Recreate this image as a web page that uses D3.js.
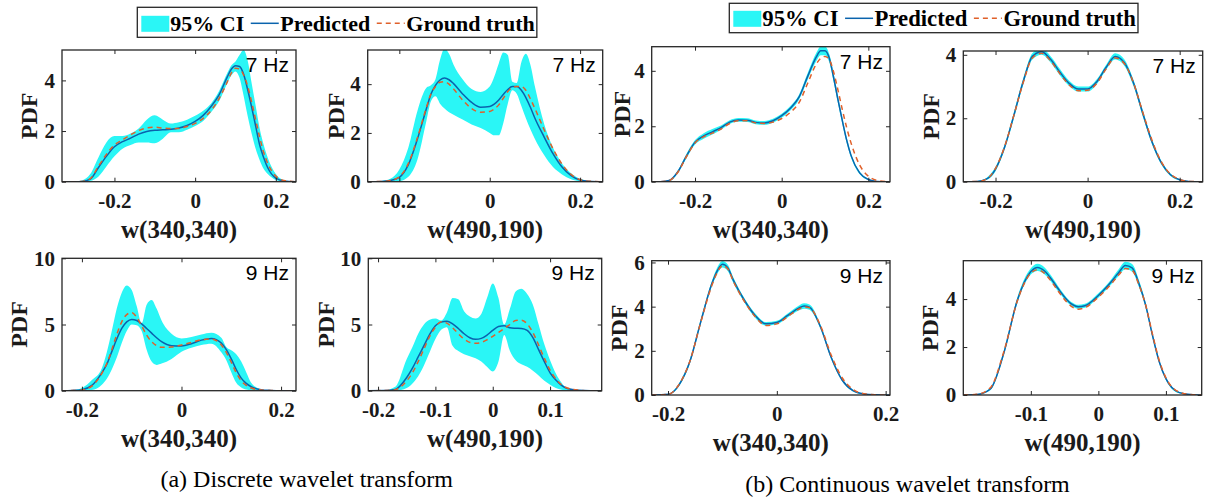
<!DOCTYPE html>
<html>
<head>
<meta charset="utf-8">
<script src="https://d3js.org/d3.v7.min.js"></script>
<style>
  body { margin: 0; background: #fff; }
</style>
</head>
<body>
<script>
// ---- data ----
// (a) DWT, w(340,340), 7 Hz
var dwtA7_x     = [-0.33, -0.30, -0.28, -0.26, -0.24, -0.22, -0.20, -0.18, -0.16, -0.14, -0.12, -0.10, -0.08, -0.06, -0.04, -0.02, 0, 0.02, 0.04, 0.06, 0.08, 0.09, 0.10, 0.11, 0.12, 0.13, 0.14, 0.15, 0.16, 0.17, 0.18, 0.20, 0.22, 0.25];
var dwtA7_pred  = [0, 0, 0.01, 0.1, 0.55, 1.0, 1.38, 1.58, 1.72, 1.88, 1.98, 2.03, 2.05, 2.07, 2.12, 2.22, 2.38, 2.62, 2.98, 3.45, 4.15, 4.45, 4.58, 4.55, 4.25, 3.65, 2.95, 2.2, 1.45, 0.95, 0.55, 0.14, 0.03, 0];
var dwtA7_truth = [0, 0, 0.01, 0.12, 0.6, 1.08, 1.45, 1.65, 1.85, 2.02, 2.12, 2.15, 2.12, 2.1, 2.1, 2.18, 2.3, 2.5, 2.82, 3.3, 3.95, 4.3, 4.48, 4.45, 4.22, 3.78, 3.15, 2.45, 1.75, 1.15, 0.72, 0.22, 0.05, 0];
var dwtA7_hi    = [0, 0, 0.05, 0.3, 0.95, 1.55, 1.8, 1.8, 1.9, 2.1, 2.45, 2.62, 2.45, 2.3, 2.35, 2.45, 2.6, 2.8, 3.1, 3.6, 4.3, 4.6, 4.75, 5.0, 5.2, 4.8, 3.9, 3.0, 2.1, 1.45, 0.95, 0.3, 0.06, 0];
var dwtA7_lo    = [0, 0, 0, 0.03, 0.2, 0.6, 1.0, 1.3, 1.45, 1.55, 1.55, 1.52, 1.7, 1.95, 1.95, 2.05, 2.2, 2.4, 2.75, 3.2, 3.9, 4.2, 4.35, 4.1, 3.4, 2.6, 1.9, 1.3, 0.85, 0.5, 0.3, 0.07, 0.01, 0];

// (a) DWT, w(490,190), 7 Hz
var dwtB7_x     = [-0.27, -0.24, -0.22, -0.20, -0.18, -0.16, -0.14, -0.13, -0.12, -0.11, -0.10, -0.09, -0.08, -0.06, -0.04, -0.02, 0, 0.01, 0.02, 0.03, 0.04, 0.05, 0.06, 0.07, 0.08, 0.09, 0.10, 0.12, 0.14, 0.16, 0.18, 0.20, 0.22, 0.25];
var dwtB7_pred  = [0, 0.01, 0.05, 0.18, 0.7, 1.75, 3.0, 3.6, 3.95, 4.17, 4.25, 4.18, 4.02, 3.6, 3.25, 3.05, 3.08, 3.18, 3.35, 3.58, 3.78, 3.9, 3.9, 3.75, 3.45, 3.05, 2.6, 1.85, 1.15, 0.6, 0.25, 0.07, 0.02, 0];
var dwtB7_truth = [0, 0.01, 0.05, 0.2, 0.75, 1.8, 3.05, 3.6, 3.9, 4.08, 4.1, 4.0, 3.8, 3.35, 3.0, 2.85, 2.88, 2.98, 3.15, 3.42, 3.7, 3.85, 3.9, 3.9, 3.75, 3.4, 3.0, 2.15, 1.35, 0.72, 0.3, 0.08, 0.02, 0];
var dwtB7_hi    = [0, 0.03, 0.12, 0.5, 1.4, 2.9, 3.85, 3.95, 4.2, 5.0, 5.45, 5.25, 4.8, 4.2, 3.8, 3.68, 3.9, 4.3, 4.85, 5.3, 5.2, 4.1, 4.05, 4.9, 5.25, 4.8, 3.9, 2.4, 1.4, 0.75, 0.35, 0.12, 0.03, 0];
var dwtB7_lo    = [0, 0, 0, 0.02, 0.2, 0.9, 2.5, 3.3, 3.5, 3.2, 3.0, 2.85, 2.75, 2.55, 2.35, 2.2, 2.0, 1.9, 1.9, 2.4, 3.2, 3.75, 3.6, 3.1, 2.6, 2.15, 1.75, 1.1, 0.6, 0.3, 0.1, 0.02, 0, 0];

// (b) CWT, w(340,340), 7 Hz
var cwtA7_x     = [-0.30, -0.28, -0.26, -0.24, -0.22, -0.20, -0.18, -0.16, -0.14, -0.12, -0.10, -0.08, -0.06, -0.04, -0.02, 0, 0.02, 0.04, 0.06, 0.08, 0.09, 0.10, 0.11, 0.12, 0.13, 0.14, 0.15, 0.16, 0.18, 0.20, 0.22, 0.25];
var cwtA7_pred  = [0, 0, 0.04, 0.35, 0.92, 1.42, 1.65, 1.8, 1.95, 2.15, 2.23, 2.22, 2.14, 2.12, 2.2, 2.38, 2.65, 3.05, 3.8, 4.5, 4.72, 4.72, 4.45, 3.75, 2.95, 2.2, 1.5, 0.95, 0.32, 0.08, 0.01, 0];
var cwtA7_truth = [0, 0, 0.04, 0.33, 0.9, 1.4, 1.62, 1.75, 1.9, 2.1, 2.2, 2.2, 2.12, 2.1, 2.15, 2.28, 2.5, 2.85, 3.55, 4.25, 4.45, 4.52, 4.4, 3.95, 3.3, 2.6, 1.95, 1.4, 0.6, 0.2, 0.05, 0];
var cwtA7_hi    = [0, 0, 0.06, 0.4, 1.0, 1.5, 1.75, 1.9, 2.03, 2.22, 2.3, 2.29, 2.21, 2.19, 2.27, 2.45, 2.73, 3.14, 3.92, 4.65, 4.88, 4.88, 4.6, 3.9, 3.08, 2.32, 1.6, 1.03, 0.37, 0.1, 0.02, 0];
var cwtA7_lo    = [0, 0, 0.02, 0.3, 0.84, 1.34, 1.55, 1.7, 1.87, 2.08, 2.16, 2.15, 2.07, 2.05, 2.13, 2.31, 2.57, 2.96, 3.68, 4.35, 4.56, 4.56, 4.3, 3.6, 2.82, 2.08, 1.4, 0.87, 0.27, 0.06, 0, 0];

// (b) CWT, w(490,190), 7 Hz
var cwtB7_x     = [-0.27, -0.24, -0.22, -0.20, -0.18, -0.16, -0.14, -0.12, -0.10, -0.08, -0.06, -0.04, -0.02, 0, 0.02, 0.04, 0.06, 0.08, 0.10, 0.12, 0.14, 0.16, 0.18, 0.20, 0.22, 0.25];
var cwtB7_pred  = [0, 0.01, 0.08, 0.4, 1.1, 2.1, 3.15, 3.95, 4.1, 3.85, 3.45, 3.1, 2.92, 2.92, 3.15, 3.6, 3.95, 3.75, 3.1, 2.15, 1.25, 0.6, 0.22, 0.06, 0.01, 0];
var cwtB7_truth = [0, 0.01, 0.08, 0.42, 1.12, 2.1, 3.12, 3.9, 4.05, 3.8, 3.4, 3.05, 2.87, 2.88, 3.1, 3.55, 3.9, 3.72, 3.1, 2.18, 1.3, 0.63, 0.24, 0.07, 0.01, 0];
var cwtB7_hi    = [0, 0.02, 0.12, 0.47, 1.18, 2.2, 3.25, 4.05, 4.2, 3.95, 3.55, 3.18, 3.0, 3.0, 3.23, 3.68, 4.05, 3.85, 3.2, 2.25, 1.33, 0.66, 0.26, 0.08, 0.02, 0];
var cwtB7_lo    = [0, 0, 0.05, 0.33, 1.02, 2.0, 3.05, 3.85, 4.0, 3.75, 3.35, 3.02, 2.84, 2.84, 3.07, 3.52, 3.85, 3.65, 3.0, 2.05, 1.17, 0.54, 0.18, 0.04, 0, 0];

// (a) DWT, w(340,340), 9 Hz
var dwtA9_x     = [-0.24, -0.22, -0.20, -0.18, -0.16, -0.15, -0.14, -0.13, -0.12, -0.11, -0.10, -0.09, -0.08, -0.07, -0.06, -0.05, -0.04, -0.02, 0, 0.02, 0.04, 0.06, 0.08, 0.09, 0.10, 0.11, 0.12, 0.13, 0.14, 0.16, 0.18, 0.20, 0.23];
var dwtA9_pred  = [0, 0.02, 0.08, 0.4, 1.35, 2.0, 2.95, 3.9, 4.7, 5.2, 5.38, 5.3, 5.05, 4.7, 4.35, 4.0, 3.7, 3.4, 3.38, 3.55, 3.82, 3.95, 3.6, 3.1, 2.4, 1.6, 0.95, 0.55, 0.3, 0.08, 0.02, 0, 0];
var dwtA9_truth = [0, 0.01, 0.06, 0.35, 1.3, 2.05, 3.1, 4.25, 5.2, 5.75, 5.9, 5.55, 4.9, 4.2, 3.7, 3.4, 3.28, 3.3, 3.45, 3.65, 3.85, 3.9, 3.45, 2.9, 2.15, 1.35, 0.75, 0.4, 0.2, 0.05, 0.01, 0, 0];
var dwtA9_hi    = [0, 0.03, 0.2, 0.8, 1.7, 2.9, 4.5, 6.2, 7.4, 7.95, 7.6, 6.4, 5.1, 6.5, 6.85, 6.2, 5.3, 4.3, 3.95, 4.05, 4.25, 4.38, 4.0, 3.3, 3.05, 2.75, 2.2, 1.4, 0.6, 0.1, 0.02, 0, 0];
var dwtA9_lo    = [0, 0, 0.01, 0.05, 0.45, 0.9, 1.6, 2.5, 3.6, 4.5, 5.0, 4.95, 4.5, 3.1, 2.2, 1.95, 2.05, 2.4, 2.95, 3.25, 3.45, 3.55, 2.9, 2.3, 1.4, 0.6, 0.25, 0.1, 0.04, 0, 0, 0, 0];

// (a) DWT, w(490,190), 9 Hz
var dwtB9_x     = [-0.22, -0.19, -0.17, -0.15, -0.14, -0.13, -0.12, -0.11, -0.10, -0.09, -0.08, -0.07, -0.06, -0.05, -0.04, -0.03, -0.02, -0.01, 0, 0.01, 0.02, 0.03, 0.04, 0.05, 0.06, 0.07, 0.08, 0.09, 0.10, 0.11, 0.12, 0.13, 0.15, 0.17, 0.19];
var dwtB9_pred  = [0, 0.01, 0.1, 1.0, 1.7, 2.55, 3.4, 4.25, 4.9, 5.18, 5.25, 5.05, 4.7, 4.3, 4.0, 3.88, 3.95, 4.2, 4.55, 4.85, 4.9, 4.75, 4.72, 4.7, 4.55, 4.0, 3.1, 2.2, 1.35, 0.8, 0.4, 0.17, 0.03, 0, 0];
var dwtB9_truth = [0, 0.01, 0.08, 0.75, 1.35, 2.2, 3.15, 4.1, 4.8, 5.2, 5.1, 4.75, 4.3, 3.9, 3.65, 3.58, 3.65, 3.85, 4.1, 4.4, 4.7, 5.0, 5.3, 5.33, 5.05, 4.4, 3.45, 2.45, 1.55, 0.9, 0.45, 0.2, 0.04, 0, 0];
var dwtB9_hi    = [0, 0.02, 0.3, 2.4, 3.3, 4.3, 5.0, 5.35, 5.45, 5.3, 5.9, 7.0, 6.9, 6.0, 5.6, 5.45, 5.8, 7.0, 8.1, 7.0, 5.0, 6.2, 7.5, 7.7, 7.3, 6.5, 5.0, 3.5, 2.3, 1.3, 0.6, 0.15, 0.01, 0, 0];
var dwtB9_lo    = [0, 0, 0, 0.2, 0.55, 1.1, 1.9, 2.9, 3.9, 4.6, 4.8, 3.4, 3.0, 2.75, 2.6, 2.45, 2.2, 1.8, 1.45, 2.2, 4.2, 3.0, 2.3, 2.0, 1.8, 1.5, 1.15, 0.75, 0.45, 0.2, 0.08, 0.02, 0, 0, 0];

// (b) CWT, w(340,340), 9 Hz
var cwtA9_x     = [-0.23, -0.20, -0.18, -0.16, -0.14, -0.12, -0.11, -0.10, -0.09, -0.08, -0.06, -0.04, -0.02, 0, 0.02, 0.04, 0.05, 0.06, 0.08, 0.10, 0.12, 0.14, 0.16, 0.18, 0.21];
var cwtA9_pred  = [0, 0.03, 0.45, 1.5, 3.3, 5.0, 5.6, 5.92, 5.75, 5.2, 4.3, 3.6, 3.22, 3.28, 3.6, 3.93, 4.03, 3.98, 3.1, 1.7, 0.68, 0.2, 0.05, 0.01, 0];
var cwtA9_truth = [0, 0.03, 0.47, 1.52, 3.28, 4.92, 5.52, 5.85, 5.7, 5.15, 4.25, 3.55, 3.15, 3.22, 3.55, 3.88, 3.98, 3.95, 3.15, 1.8, 0.78, 0.25, 0.06, 0.01, 0];
var cwtA9_hi    = [0, 0.05, 0.52, 1.6, 3.42, 5.12, 5.75, 6.07, 5.9, 5.33, 4.4, 3.7, 3.3, 3.36, 3.69, 4.04, 4.15, 4.1, 3.2, 1.78, 0.74, 0.24, 0.07, 0.02, 0];
var cwtA9_lo    = [0, 0.01, 0.38, 1.4, 3.18, 4.88, 5.45, 5.77, 5.6, 5.07, 4.2, 3.5, 3.14, 3.2, 3.51, 3.82, 3.91, 3.86, 3.0, 1.62, 0.62, 0.16, 0.03, 0, 0];

// (b) CWT, w(490,190), 9 Hz
var cwtB9_x     = [-0.20, -0.18, -0.16, -0.14, -0.12, -0.10, -0.09, -0.08, -0.07, -0.06, -0.04, -0.03, -0.02, 0, 0.02, 0.03, 0.04, 0.05, 0.06, 0.07, 0.08, 0.09, 0.10, 0.12, 0.14, 0.153];
var cwtB9_pred  = [0, 0.02, 0.25, 1.75, 3.95, 5.15, 5.32, 5.18, 4.85, 4.45, 3.8, 3.68, 3.72, 4.15, 4.75, 5.1, 5.4, 5.3, 4.65, 3.75, 2.5, 1.4, 0.68, 0.1, 0.01, 0];
var cwtB9_truth = [0, 0.03, 0.3, 1.8, 3.92, 5.08, 5.22, 5.08, 4.75, 4.35, 3.7, 3.58, 3.64, 4.08, 4.66, 5.0, 5.27, 5.2, 4.6, 3.75, 2.55, 1.45, 0.72, 0.12, 0.01, 0];
var cwtB9_hi    = [0, 0.03, 0.3, 1.85, 4.07, 5.28, 5.47, 5.33, 4.98, 4.56, 3.88, 3.76, 3.8, 4.24, 4.86, 5.24, 5.56, 5.46, 4.8, 3.86, 2.6, 1.48, 0.74, 0.13, 0.02, 0];
var cwtB9_lo    = [0, 0.01, 0.2, 1.65, 3.83, 5.02, 5.17, 5.03, 4.72, 4.34, 3.72, 3.6, 3.64, 4.06, 4.64, 4.96, 5.24, 5.14, 4.5, 3.64, 2.4, 1.32, 0.62, 0.07, 0, 0];

var legendLabels = ["95% CI", "Predicted", "Ground truth"];
var captions = ["(a) Discrete wavelet transform", "(b) Continuous wavelet transform"];

// ---- styles ----
var serif = '"Liberation Serif", "Times New Roman", Times, serif';
var sans = '"Liberation Sans", Arial, Helvetica, sans-serif';
var ciColor = "#2af6f6";
var predColor = "#0a63ad";
var truthColor = "#e0602a";
var axisColor = "#262626";

var svg = d3.select("body").append("svg")
    .attr("width", 1208)
    .attr("height", 498);

// box = [left, top, right, bottom] in pixels
var panels = [
  {box: [62, 50, 296, 181.7], xd: [-0.33, 0.25], yd: [0, 5.2], xt: [-0.2, 0, 0.2], yt: [0, 2, 4], lab: "w(340,340)", hz: "7 Hz", yoff: 33,
   x: dwtA7_x, pred: dwtA7_pred, truth: dwtA7_truth, lo: dwtA7_lo, hi: dwtA7_hi},
  {box: [367.7, 50, 602.7, 181.7], xd: [-0.27, 0.25], yd: [0, 5.4], xt: [-0.2, 0, 0.2], yt: [0, 2, 4], lab: "w(490,190)", hz: "7 Hz", yoff: 32,
   x: dwtB7_x, pred: dwtB7_pred, truth: dwtB7_truth, lo: dwtB7_lo, hi: dwtB7_hi},
  {box: [651.7, 46.7, 890, 181.7], xd: [-0.30, 0.25], yd: [0, 4.87], xt: [-0.2, 0, 0.2], yt: [0, 2, 4], lab: "w(340,340)", hz: "7 Hz", yoff: 30,
   x: cwtA7_x, pred: cwtA7_pred, truth: cwtA7_truth, lo: cwtA7_lo, hi: cwtA7_hi},
  {box: [963.3, 51, 1202.7, 181.7], xd: [-0.27, 0.25], yd: [0, 4.12], xt: [-0.2, 0, 0.2], yt: [0, 2, 4], lab: "w(490,190)", hz: "7 Hz", yoff: 32.5,
   x: cwtB7_x, pred: cwtB7_pred, truth: cwtB7_truth, lo: cwtB7_lo, hi: cwtB7_hi},
  {box: [62, 258.3, 296, 390.7], xd: [-0.24, 0.23], yd: [0, 10], xt: [-0.2, 0, 0.2], yt: [0, 5, 10], lab: "w(340,340)", hz: "9 Hz", yoff: 43.5,
   x: dwtA9_x, pred: dwtA9_pred, truth: dwtA9_truth, lo: dwtA9_lo, hi: dwtA9_hi},
  {box: [368.3, 258.3, 601.7, 390.7], xd: [-0.217, 0.19], yd: [0, 10], xt: [-0.2, -0.1, 0, 0.1], yt: [0, 5, 10], lab: "w(490,190)", hz: "9 Hz", yoff: 43,
   x: dwtB9_x, pred: dwtB9_pred, truth: dwtB9_truth, lo: dwtB9_lo, hi: dwtB9_hi},
  {box: [651.7, 260.7, 890, 395], xd: [-0.23, 0.208], yd: [0, 6.08], xt: [-0.2, 0, 0.2], yt: [0, 2, 4, 6], lab: "w(340,340)", hz: "9 Hz", yoff: 32.7,
   x: cwtA9_x, pred: cwtA9_pred, truth: cwtA9_truth, lo: cwtA9_lo, hi: cwtA9_hi},
  {box: [963.3, 260.7, 1201.7, 395], xd: [-0.2, 0.153], yd: [0, 5.6], xt: [-0.1, 0, 0.1], yt: [0, 2, 4], lab: "w(490,190)", hz: "9 Hz", yoff: 34,
   x: cwtB9_x, pred: cwtB9_pred, truth: cwtB9_truth, lo: cwtB9_lo, hi: cwtB9_hi}
];

function fmt(d) { return d === 0 ? "0" : String(d); }

function styleAxis(sel) {
    sel.attr("color", axisColor)
       .attr("font-family", null)
       .attr("font-size", null);
    sel.select(".domain").remove();
    sel.selectAll("line").attr("stroke-width", 1);
    sel.selectAll("text")
        .attr("fill", "#1a1a1a")
        .style("font-family", serif)
        .style("font-size", "21px")
        .style("font-weight", "bold");
}

function drawPanel(p, i) {
    var w = p.box[2] - p.box[0],
        h = p.box[3] - p.box[1];
    var x = d3.scaleLinear().domain(p.xd).range([0, w]);
    var y = d3.scaleLinear().domain(p.yd).range([h, 0]);

    var g = svg.append("g")
        .attr("transform", "translate(" + p.box[0] + "," + p.box[1] + ")");

    g.append("clipPath").attr("id", "clip" + i)
      .append("rect").attr("width", w).attr("height", h);

    var rows = p.x.map(function(v, k) {
        return {x: v, pred: p.pred[k], truth: p.truth[k], lo: p.lo[k], hi: p.hi[k]};
    });

    var plot = g.append("g").attr("clip-path", "url(#clip" + i + ")");

    // confidence band
    plot.append("path")
        .datum(rows)
        .attr("fill", ciColor)
        .attr("d", d3.area()
            .x(function(d) { return x(d.x); })
            .y0(function(d) { return y(d.lo); })
            .y1(function(d) { return y(d.hi); })
            .curve(d3.curveMonotoneX));

    // predicted
    plot.append("path")
        .datum(rows)
        .attr("fill", "none")
        .attr("stroke", predColor)
        .attr("stroke-width", 1.5)
        .attr("d", d3.line()
            .x(function(d) { return x(d.x); })
            .y(function(d) { return y(d.pred); })
            .curve(d3.curveMonotoneX));

    // ground truth
    plot.append("path")
        .datum(rows)
        .attr("fill", "none")
        .attr("stroke", truthColor)
        .attr("stroke-width", 1.5)
        .attr("stroke-dasharray", "5,4")
        .attr("d", d3.line()
            .x(function(d) { return x(d.x); })
            .y(function(d) { return y(d.truth); })
            .curve(d3.curveMonotoneX));

    // axes, ticks pointing inward on all four sides
    g.append("g")
        .attr("transform", "translate(0," + h + ")")
        .call(d3.axisBottom(x).tickValues(p.xt).tickSize(-4).tickPadding(11).tickFormat(fmt))
        .call(styleAxis);
    g.append("g")
        .call(d3.axisTop(x).tickValues(p.xt).tickSize(-4).tickFormat(""))
        .call(styleAxis);
    g.append("g")
        .call(d3.axisLeft(y).tickValues(p.yt).tickSize(-4).tickPadding(7).tickFormat(fmt))
        .call(styleAxis);
    g.append("g")
        .attr("transform", "translate(" + w + ",0)")
        .call(d3.axisRight(y).tickValues(p.yt).tickSize(-4).tickFormat(""))
        .call(styleAxis);

    g.append("rect")
        .attr("width", w)
        .attr("height", h)
        .attr("fill", "none")
        .attr("stroke", axisColor)
        .attr("stroke-width", 1.3);

    // x label
    g.append("text")
        .attr("x", w / 2)
        .attr("y", h + 56)
        .attr("text-anchor", "middle")
        .attr("fill", "#1a1a1a")
        .style("font-family", serif)
        .style("font-size", "25px")
        .style("font-weight", "bold")
        .text(p.lab);

    // y label
    g.append("text")
        .attr("transform", "translate(" + (-p.yoff) + "," + (h / 2) + ") rotate(-90)")
        .attr("dy", "0.35em")
        .attr("text-anchor", "middle")
        .attr("fill", "#1a1a1a")
        .style("font-family", serif)
        .style("font-size", "24px")
        .style("font-weight", "bold")
        .text("PDF");

    // frequency tag
    g.append("text")
        .attr("x", w - 7)
        .attr("y", 22)
        .attr("text-anchor", "end")
        .attr("fill", "#000")
        .style("font-family", sans)
        .style("font-size", "21px")
        .text(p.hz);
}

panels.forEach(drawPanel);

// legends
function drawLegend(x0, y0, h, fs, baseline, lineY) {
    var lg = svg.append("g");
    var box = lg.append("rect")
        .attr("x", x0).attr("y", y0).attr("height", h)
        .attr("fill", "#fff").attr("stroke", axisColor).attr("stroke-width", 1.3);
    var cx = x0 + 4;
    lg.append("rect")
        .attr("x", cx).attr("y", lineY - 7.5)
        .attr("width", 28).attr("height", 16)
        .attr("fill", ciColor);
    cx += 29;
    legendLabels.forEach(function(lbl, k) {
        if (k > 0) {
            lg.append("line")
                .attr("x1", cx).attr("x2", cx + 28)
                .attr("y1", lineY).attr("y2", lineY)
                .attr("stroke", k === 1 ? predColor : truthColor)
                .attr("stroke-width", 1.5)
                .attr("stroke-dasharray", k === 1 ? null : "5,4");
            cx += 29.5;
        }
        var t = lg.append("text")
            .attr("x", cx).attr("y", baseline)
            .attr("fill", "#000")
            .style("font-family", serif)
            .style("font-size", fs + "px")
            .style("font-weight", "bold")
            .text(lbl);
        cx += t.node().getComputedTextLength() + 6.5;
    });
    box.attr("width", cx - 6.5 + 2 - x0);
}

drawLegend(137.3, 7.3, 30, 22, 31, 23.3);
drawLegend(729.3, 3.3, 29.4, 22.7, 26, 18.3);

// captions
svg.append("text")
    .attr("x", 306.7).attr("y", 486.5)
    .attr("text-anchor", "middle")
    .attr("fill", "#000")
    .style("font-family", serif)
    .style("font-size", "24px")
    .text(captions[0]);
svg.append("text")
    .attr("x", 907.5).attr("y", 491.5)
    .attr("text-anchor", "middle")
    .attr("fill", "#000")
    .style("font-family", serif)
    .style("font-size", "24px")
    .text(captions[1]);
</script>
</body>
</html>
